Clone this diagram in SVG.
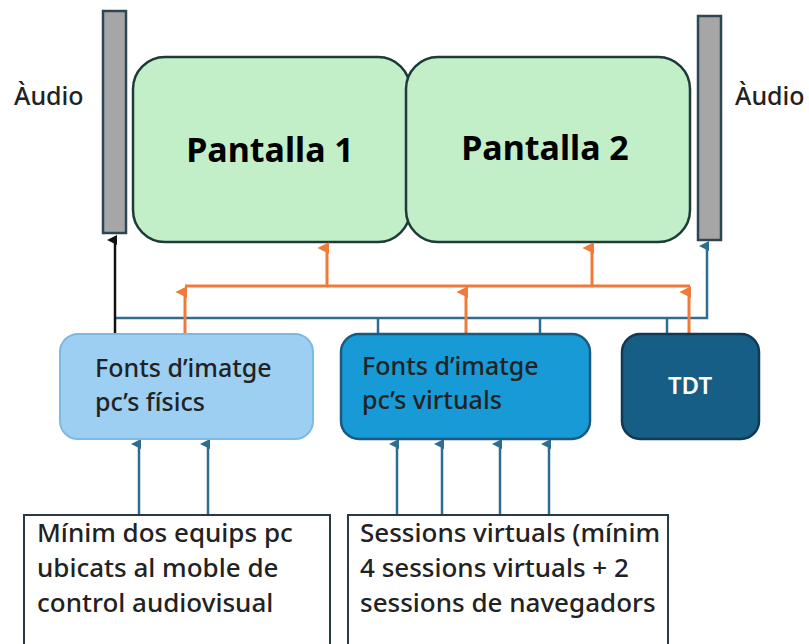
<svg xmlns="http://www.w3.org/2000/svg" width="809" height="644" viewBox="0 0 809 644">
<defs>
<style>
.spk{fill:#a6a6a6;stroke:#2e4654;stroke-width:2.5}
.scr{fill:#c2efc8;stroke:#1e3a3a;stroke-width:2.5}
.t{font-family:"Noto Sans","Open Sans",sans-serif;fill:#222;font-weight:500}
.big{font-family:"Noto Sans","Open Sans",sans-serif;font-weight:bold;font-size:34px;fill:#000}
.blue{stroke:#2f6d8f;stroke-width:2.5;fill:none}
.or{stroke:#f07a3a;stroke-width:3;fill:none}
.blk{stroke:#111;stroke-width:2.5;fill:none}
.src{fill:#fff;stroke:#2a3a44;stroke-width:2}
</style>
<marker id="ab" viewBox="0 0 10 10" refX="5" refY="8" markerWidth="4" markerHeight="4" orient="auto" markerUnits="strokeWidth"><path d="M0,10 L5,0 L10,10 Z" fill="#2f6d8f"/></marker>
<marker id="ao" viewBox="0 0 10 10" refX="5" refY="8" markerWidth="4" markerHeight="4" orient="auto" markerUnits="strokeWidth"><path d="M0,10 L5,0 L10,10 Z" fill="#f07a3a"/></marker>
<marker id="ak" viewBox="0 0 10 10" refX="5" refY="8" markerWidth="4" markerHeight="4" orient="auto" markerUnits="strokeWidth"><path d="M0,10 L5,0 L10,10 Z" fill="#111"/></marker>
</defs>

<g id="audio-left">
<rect class="spk" x="103" y="11" width="23" height="222"/>
<text class="t" x="14" y="105" font-size="25">Àudio</text>
</g>
<g id="audio-right">
<rect class="spk" x="698" y="16" width="23" height="224"/>
<text class="t" x="735" y="105" font-size="25">Àudio</text>
</g>
<g id="pantalla1">
<rect class="scr" x="133" y="57" width="277" height="185" rx="32"/>
<text class="big" x="270" y="162" text-anchor="middle">Pantalla 1</text>
</g>
<g id="pantalla2">
<rect class="scr" x="406" y="57" width="284" height="185" rx="32"/>
<text class="big" x="545" y="160" text-anchor="middle">Pantalla 2</text>
</g>

<g id="connectors">
<path class="blue" d="M115,318 H707 V246" marker-end="url(#ab)"/>
<path class="blue" d="M378,318 V333"/>
<path class="blue" d="M540,318 V333"/>
<path class="blue" d="M667,318 V333"/>
<path class="blk" d="M115,333 V240" marker-end="url(#ak)"/>
<path class="or" d="M185,286 H690"/>
<path class="or" d="M185,333 V292" marker-end="url(#ao)"/>
<path class="or" d="M466,333 V292" marker-end="url(#ao)"/>
<path class="or" d="M689,333 V292" marker-end="url(#ao)"/>
<path class="or" d="M327,286 V248" marker-end="url(#ao)"/>
<path class="or" d="M592,286 V248" marker-end="url(#ao)"/>
<path class="blue" d="M139,515 V444" marker-end="url(#ab)"/>
<path class="blue" d="M208,515 V444" marker-end="url(#ab)"/>
<path class="blue" d="M397,515 V444" marker-end="url(#ab)"/>
<path class="blue" d="M442,515 V444" marker-end="url(#ab)"/>
<path class="blue" d="M500,515 V444" marker-end="url(#ab)"/>
<path class="blue" d="M549,515 V444" marker-end="url(#ab)"/>
</g>

<g id="fonts-fisics">
<rect x="60" y="334" width="253" height="105" rx="18" fill="#9ccff2" stroke="#7db9e2" stroke-width="2"/>
<text class="t" x="95" y="377" font-size="25">Fonts d’imatge</text>
<text class="t" x="95" y="411" font-size="25">pc’s físics</text>
</g>
<g id="fonts-virtuals">
<rect x="341" y="334" width="249" height="105" rx="18" fill="#189ad6" stroke="#1a5a80" stroke-width="2.5"/>
<text class="t" x="362" y="375" font-size="25">Fonts d’imatge</text>
<text class="t" x="362" y="409" font-size="25">pc’s virtuals</text>
</g>
<g id="tdt">
<rect x="622" y="334" width="137" height="105" rx="18" fill="#175e86" stroke="#0e3a55" stroke-width="2.5"/>
<text x="690" y="394" font-size="24" font-weight="600" fill="#fff" text-anchor="middle" font-family="Noto Sans, Open Sans, sans-serif">TDT</text>
</g>
<g id="pcs-fisics">
<rect class="src" x="24" y="515" width="306" height="135"/>
<text class="t" x="37" y="542" font-size="26">Mínim dos equips pc</text>
<text class="t" x="37" y="577" font-size="26">ubicats al moble de</text>
<text class="t" x="37" y="612" font-size="26">control audiovisual</text>
</g>
<g id="sessions-virtuals">
<rect class="src" x="348" y="515" width="320" height="135"/>
<text class="t" x="360" y="542" font-size="26">Sessions virtuals (mínim</text>
<text class="t" x="360" y="577" font-size="26">4 sessions virtuals + 2</text>
<text class="t" x="360" y="612" font-size="26">sessions de navegadors</text>
</g>
</svg>
